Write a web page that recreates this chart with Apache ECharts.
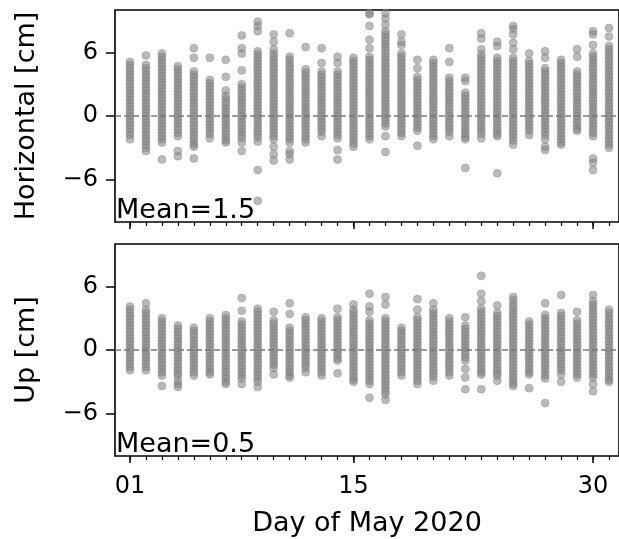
<!DOCTYPE html>
<html>
<head>
<meta charset="utf-8">
<script src="https://cdn.jsdelivr.net/npm/echarts@6/dist/echarts.min.js"></script>
<style>
  html, body { margin: 0; padding: 0; background: #ffffff; }
  #chart { width: 619px; height: 539px; }
</style>
</head>
<body>
<div id="chart"></div>
<script>
// Days of May 2020 with solutions
const days = [1, 2, 3, 4, 5, 6, 7, 8, 9, 10, 11, 12, 13, 14, 15, 16,
              17, 18, 19, 20, 21, 22, 23, 24, 25, 26, 27, 28, 29, 30, 31];
const majorDays = [1, 15, 30];
const yTicks = [-6, 0, 6];

// Horizontal offsets (cm), one list per day
const horizontal = [
  [5.1,4.8,4.5,4.2,3.9,3.6,3.3,3.0,2.7,2.4,2.1,1.8,1.5,1.2,0.9,0.6,0.3,0.0,-0.3,-0.6,-0.9,-1.2,-1.5,-1.8,-2.2],
  [5.7,4.8,4.5,4.2,3.9,3.6,3.3,3.0,2.7,2.4,2.1,1.8,1.5,1.2,0.9,0.6,0.3,0.0,-0.3,-0.6,-0.9,-1.2,-1.5,-1.8,-2.1,-2.4,-2.7,-3.0,-3.3],
  [5.9,5.6,5.3,5.0,4.7,4.4,4.1,3.8,3.5,3.2,2.9,2.6,2.3,2.0,1.7,1.4,1.1,0.8,0.5,0.2,-0.1,-0.4,-0.7,-1.0,-1.3,-1.6,-1.9,-2.2,-2.5,-4.1],
  [4.7,4.4,4.1,3.8,3.5,3.2,2.9,2.6,2.3,2.0,1.7,1.4,1.1,0.8,0.5,0.2,-0.1,-0.4,-0.7,-1.0,-1.3,-1.6,-1.9,-3.3,-3.8],
  [6.4,5.5,4.2,3.9,3.6,3.3,3.0,2.7,2.4,2.1,1.8,1.5,1.2,0.9,0.6,0.3,0.0,-0.3,-0.6,-0.9,-1.2,-1.5,-1.8,-2.1,-2.4,-2.7,-2.9,-4.0],
  [5.5,3.4,3.1,2.8,2.5,2.2,1.9,1.6,1.3,1.0,0.7,0.4,0.1,-0.2,-0.5,-0.8,-1.1,-1.4,-1.7,-2.1],
  [5.3,3.7,2.4,1.9,1.6,1.3,1.0,0.7,0.4,0.1,-0.2,-0.5,-0.8,-1.1,-1.4,-1.7,-2.0,-2.3,-2.5],
  [7.6,6.4,5.9,4.3,3.0,2.7,2.4,2.1,1.8,1.5,1.2,0.9,0.6,0.3,0.0,-0.3,-0.6,-0.9,-1.2,-1.5,-1.8,-2.1,-2.5,-3.3],
  [8.9,8.5,8.0,6.1,5.8,5.5,5.2,4.9,4.6,4.3,4.0,3.7,3.4,3.1,2.8,2.5,2.2,1.9,1.6,1.3,1.0,0.7,0.4,0.1,-0.2,-0.5,-0.8,-1.1,-1.4,-1.7,-2.0,-2.4,-5.1,-8.0],
  [7.7,7.0,6.3,5.9,5.6,5.3,5.0,4.7,4.4,4.1,3.8,3.5,3.2,2.9,2.6,2.3,2.0,1.7,1.4,1.1,0.8,0.5,0.2,-0.1,-0.4,-0.7,-1.0,-1.3,-1.6,-1.9,-2.2,-2.9,-3.6,-4.2],
  [7.8,5.6,5.3,5.0,4.7,4.4,4.1,3.8,3.5,3.2,2.9,2.6,2.3,2.0,1.7,1.4,1.1,0.8,0.5,0.2,-0.1,-0.4,-0.7,-1.0,-1.3,-1.6,-1.9,-2.2,-2.5,-3.3,-3.6,-4.1],
  [6.5,4.4,4.1,3.8,3.5,3.2,2.9,2.6,2.3,2.0,1.7,1.4,1.1,0.8,0.5,0.2,-0.1,-0.4,-0.7,-1.0,-1.3,-1.6,-1.9,-2.2,-2.5],
  [6.4,5.0,4.2,3.9,3.6,3.3,3.0,2.7,2.4,2.1,1.8,1.5,1.2,0.9,0.6,0.3,0.0,-0.3,-0.6,-0.9,-1.2,-1.5,-1.9],
  [5.6,5.0,4.2,3.9,3.6,3.3,3.0,2.7,2.4,2.1,1.8,1.5,1.2,0.9,0.6,0.3,0.0,-0.3,-0.6,-0.9,-1.2,-1.5,-1.8,-2.1,-3.2,-4.1],
  [5.5,5.2,4.9,4.6,4.3,4.0,3.7,3.4,3.1,2.8,2.5,2.2,1.9,1.6,1.3,1.0,0.7,0.4,0.1,-0.2,-0.5,-0.8,-1.1,-1.4,-1.7,-2.0,-2.3,-2.6,-2.9],
  [9.7,9.6,8.5,7.2,6.4,5.6,5.3,5.0,4.7,4.4,4.1,3.8,3.5,3.2,2.9,2.6,2.3,2.0,1.7,1.4,1.1,0.8,0.5,0.2,-0.1,-0.4,-0.7,-1.0,-1.3,-1.6,-1.9,-2.2],
  [9.7,9.2,8.6,8.0,7.7,7.4,7.1,6.8,6.5,6.2,5.9,5.6,5.3,5.0,4.7,4.4,4.1,3.8,3.5,3.2,2.9,2.6,2.3,2.0,1.7,1.4,1.1,0.8,0.5,0.2,-0.1,-0.4,-0.7,-1.0,-1.9,-3.4],
  [7.7,7.0,6.7,5.9,5.6,5.3,5.0,4.7,4.4,4.1,3.8,3.5,3.2,2.9,2.6,2.3,2.0,1.7,1.4,1.1,0.8,0.5,0.2,-0.1,-0.4,-0.7,-1.0,-1.3,-1.6,-1.9],
  [5.3,4.5,3.7,3.4,3.1,2.8,2.5,2.2,1.9,1.6,1.3,1.0,0.7,0.4,0.1,-0.2,-0.5,-0.8,-1.1,-1.4,-2.8],
  [5.3,5.0,4.7,4.4,4.1,3.8,3.5,3.2,2.9,2.6,2.3,2.0,1.7,1.4,1.1,0.8,0.5,0.2,-0.1,-0.4,-0.7,-1.0,-1.3,-1.6,-1.9,-2.2],
  [6.4,5.1,3.6,3.3,3.0,2.7,2.4,2.1,1.8,1.5,1.2,0.9,0.6,0.3,0.0,-0.3,-0.6,-0.9,-1.2,-1.5,-1.9],
  [3.6,3.3,2.2,1.9,1.6,1.3,1.0,0.7,0.4,0.1,-0.2,-0.5,-0.8,-1.1,-1.4,-1.7,-2.0,-2.2,-4.9],
  [7.8,7.3,6.3,5.8,5.5,5.2,4.9,4.6,4.3,4.0,3.7,3.4,3.1,2.8,2.5,2.2,1.9,1.6,1.3,1.0,0.7,0.4,0.1,-0.2,-0.5,-0.8,-1.1,-1.4,-1.7,-2.1],
  [7.0,6.6,5.5,5.2,4.9,4.6,4.3,4.0,3.7,3.4,3.1,2.8,2.5,2.2,1.9,1.6,1.3,1.0,0.7,0.4,0.1,-0.2,-0.5,-0.8,-1.1,-1.4,-1.7,-1.9,-5.4],
  [8.5,8.2,7.7,6.9,6.3,5.5,5.2,4.9,4.6,4.3,4.0,3.7,3.4,3.1,2.8,2.5,2.2,1.9,1.6,1.3,1.0,0.7,0.4,0.1,-0.2,-0.5,-0.8,-1.1,-1.4,-1.7,-2.0,-2.3,-2.7],
  [5.9,5.2,4.9,4.6,4.3,4.0,3.7,3.4,3.1,2.8,2.5,2.2,1.9,1.6,1.3,1.0,0.7,0.4,0.1,-0.2,-0.5,-0.8,-1.1,-1.4,-1.8],
  [6.1,5.5,4.5,4.2,3.9,3.6,3.3,3.0,2.7,2.4,2.1,1.8,1.5,1.2,0.9,0.6,0.3,0.0,-0.3,-0.6,-0.9,-1.2,-1.5,-1.8,-2.2,-2.9,-3.2],
  [5.3,5.0,4.7,4.4,4.1,3.8,3.5,3.2,2.9,2.6,2.3,2.0,1.7,1.4,1.1,0.8,0.5,0.2,-0.1,-0.4,-0.7,-1.0,-1.3,-1.6,-1.9,-2.2,-2.5,-2.7],
  [6.3,5.6,4.2,3.9,3.6,3.3,3.0,2.7,2.4,2.1,1.8,1.5,1.2,0.9,0.6,0.3,0.0,-0.3,-0.6,-0.9,-1.2,-1.4],
  [8.0,7.7,6.7,5.9,5.6,5.3,5.0,4.7,4.4,4.1,3.8,3.5,3.2,2.9,2.6,2.3,2.0,1.7,1.4,1.1,0.8,0.5,0.2,-0.1,-0.4,-0.7,-1.0,-1.3,-1.6,-1.9,-4.0,-4.4,-5.1],
  [8.3,7.5,6.6,6.3,6.0,5.7,5.4,5.1,4.8,4.5,4.2,3.9,3.6,3.3,3.0,2.7,2.4,2.1,1.8,1.5,1.2,0.9,0.6,0.3,0.0,-0.3,-0.6,-0.9,-1.2,-1.5,-1.8,-2.1,-2.4,-2.7,-3.0]
];

// Vertical (up) offsets (cm), one list per day
const up = [
  [4.1,3.8,3.5,3.2,2.9,2.6,2.3,2.0,1.7,1.4,1.1,0.8,0.5,0.2,-0.1,-0.4,-0.7,-1.0,-1.3,-1.6,-1.9],
  [4.4,3.8,3.5,3.2,2.9,2.6,2.3,2.0,1.7,1.4,1.1,0.8,0.5,0.2,-0.1,-0.4,-0.7,-1.0,-1.3,-1.6,-1.9],
  [3.0,2.7,2.4,2.1,1.8,1.5,1.2,0.9,0.6,0.3,0.0,-0.3,-0.6,-0.9,-1.2,-1.5,-1.8,-2.1,-2.4,-3.4],
  [2.3,2.0,1.7,1.4,1.1,0.8,0.5,0.2,-0.1,-0.4,-0.7,-1.0,-1.3,-1.6,-1.9,-2.2,-2.4,-2.9,-3.2,-3.5],
  [2.1,1.8,1.5,1.2,0.9,0.6,0.3,0.0,-0.3,-0.6,-0.9,-1.2,-1.5,-1.8,-2.1,-2.4],
  [3.0,2.7,2.4,2.1,1.8,1.5,1.2,0.9,0.6,0.3,0.0,-0.3,-0.6,-0.9,-1.2,-1.5,-1.8,-2.1,-2.3],
  [3.3,3.0,2.7,2.4,2.1,1.8,1.5,1.2,0.9,0.6,0.3,0.0,-0.3,-0.6,-0.9,-1.2,-1.5,-1.8,-2.1,-2.4,-2.7,-3.0,-3.2],
  [4.9,3.7,2.7,2.4,2.1,1.8,1.5,1.2,0.9,0.6,0.3,0.0,-0.3,-0.6,-0.9,-1.2,-1.5,-1.8,-2.1,-2.4,-2.7,-3.2],
  [3.9,3.6,3.3,3.0,2.7,2.4,2.1,1.8,1.5,1.2,0.9,0.6,0.3,0.0,-0.3,-0.6,-0.9,-1.2,-1.5,-1.8,-2.1,-2.4,-2.7,-3.0,-3.5],
  [3.6,2.8,2.5,2.2,1.9,1.6,1.3,1.0,0.7,0.4,0.1,-0.2,-0.5,-0.8,-1.1,-1.4,-1.7,-2.3],
  [4.4,3.4,2.1,1.8,1.5,1.2,0.9,0.6,0.3,0.0,-0.3,-0.6,-0.9,-1.2,-1.5,-1.8,-2.1,-2.4,-2.6],
  [3.1,2.8,2.5,2.2,1.9,1.6,1.3,1.0,0.7,0.4,0.1,-0.2,-0.5,-0.8,-1.1,-1.4,-1.7,-2.1],
  [3.0,2.7,2.4,2.1,1.8,1.5,1.2,0.9,0.6,0.3,0.0,-0.3,-0.6,-0.9,-1.2,-1.5,-1.8,-2.1,-2.4],
  [3.9,3.1,2.8,2.5,2.2,1.9,1.6,1.3,1.0,0.7,0.4,0.1,-0.2,-0.5,-0.8,-1.0,-2.2],
  [4.3,3.8,3.5,3.2,2.9,2.6,2.3,2.0,1.7,1.4,1.1,0.8,0.5,0.2,-0.1,-0.4,-0.7,-1.0,-1.3,-1.6,-1.9,-2.2,-2.5,-2.8,-3.0],
  [5.3,4.1,3.6,2.8,2.5,2.2,1.9,1.6,1.3,1.0,0.7,0.4,0.1,-0.2,-0.5,-0.8,-1.1,-1.4,-1.7,-2.0,-2.3,-2.6,-2.9,-3.2,-4.5],
  [5.0,4.3,3.0,2.7,2.4,2.1,1.8,1.5,1.2,0.9,0.6,0.3,0.0,-0.3,-0.6,-0.9,-1.2,-1.5,-1.8,-2.1,-2.4,-2.7,-3.0,-3.3,-3.6,-3.9,-4.2,-4.7],
  [2.1,1.8,1.5,1.2,0.9,0.6,0.3,0.0,-0.3,-0.6,-0.9,-1.2,-1.5,-1.8,-2.1,-2.4],
  [4.8,3.8,3.1,2.8,2.5,2.2,1.9,1.6,1.3,1.0,0.7,0.4,0.1,-0.2,-0.5,-0.8,-1.1,-1.4,-1.7,-2.0,-2.3,-2.6,-2.9,-3.2],
  [4.4,3.8,3.5,3.2,2.9,2.6,2.3,2.0,1.7,1.4,1.1,0.8,0.5,0.2,-0.1,-0.4,-0.7,-1.0,-1.3,-1.6,-1.9,-2.2,-2.5,-2.9],
  [3.0,2.7,2.4,2.1,1.8,1.5,1.2,0.9,0.6,0.3,0.0,-0.3,-0.6,-0.9,-1.2,-1.5,-1.8,-2.1,-2.4],
  [3.1,2.3,2.0,1.7,1.4,1.1,0.8,0.5,0.2,-0.1,-0.4,-0.7,-1.0,-1.8,-2.6,-3.7],
  [7.0,5.3,4.6,3.9,3.6,3.3,3.0,2.7,2.4,2.1,1.8,1.5,1.2,0.9,0.6,0.3,0.0,-0.3,-0.6,-0.9,-1.2,-1.5,-1.8,-2.1,-2.3,-3.7],
  [4.2,3.5,3.2,2.9,2.6,2.3,2.0,1.7,1.4,1.1,0.8,0.5,0.2,-0.1,-0.4,-0.7,-1.0,-1.3,-1.6,-1.9,-2.2,-2.4,-2.9],
  [5.0,4.7,4.3,4.0,3.7,3.4,3.1,2.8,2.5,2.2,1.9,1.6,1.3,1.0,0.7,0.4,0.1,-0.2,-0.5,-0.8,-1.1,-1.4,-1.7,-2.0,-2.3,-2.6,-2.9,-3.2,-3.4],
  [2.7,2.4,2.1,1.8,1.5,1.2,0.9,0.6,0.3,0.0,-0.3,-0.6,-0.9,-1.2,-1.5,-1.8,-2.1,-2.3,-3.6],
  [4.4,3.3,3.0,2.7,2.4,2.1,1.8,1.5,1.2,0.9,0.6,0.3,0.0,-0.3,-0.6,-0.9,-1.2,-1.5,-1.8,-2.1,-2.4,-2.7,-5.0],
  [5.2,3.5,3.2,2.9,2.6,2.3,2.0,1.7,1.4,1.1,0.8,0.5,0.2,-0.1,-0.4,-0.7,-1.0,-1.3,-1.6,-1.9,-2.3,-3.0],
  [3.6,2.8,2.5,2.2,1.9,1.6,1.3,1.0,0.7,0.4,0.1,-0.2,-0.5,-0.8,-1.1,-1.4,-1.7,-2.0,-2.3,-2.6],
  [5.2,4.6,4.3,4.0,3.7,3.4,3.1,2.8,2.5,2.2,1.9,1.6,1.3,1.0,0.7,0.4,0.1,-0.2,-0.5,-0.8,-1.1,-1.4,-1.7,-2.0,-2.3,-2.6,-3.2,-3.9],
  [3.8,3.5,3.2,2.9,2.6,2.3,2.0,1.7,1.4,1.1,0.8,0.5,0.2,-0.1,-0.4,-0.7,-1.0,-1.3,-1.6,-1.9,-2.2,-2.5,-2.8,-3.0]
];

const meanHorizontal = 1.5;
const meanUp = 0.5;

const FONT = '"DejaVu Sans", "Liberation Sans", sans-serif';
const X_MIN = 1 - 15 / 16;      // a little before 1 May
const X_MAX = X_MIN + 505 / 16; // past 31 May, right edge off canvas

function toPoints(values) {
  const pts = [];
  days.forEach((d, i) => values[i].forEach(v => pts.push([d, v])));
  return pts;
}

const fmtY = v => (v < 0 ? '\u2212' + Math.abs(v) : String(v));
const fmtDay = v => String(v).padStart(2, '0');

function majorX(gridIndex, withLabels) {
  return {
    type: 'value', gridIndex, min: X_MIN, max: X_MAX, position: 'bottom',
    axisLine: { show: false, onZero: false },
    splitLine: { show: false },
    axisTick: { show: true, customValues: majorDays, length: 7, lineStyle: { color: '#000', width: 1.5 } },
    axisLabel: withLabels
      ? { show: true, customValues: majorDays, formatter: fmtDay, fontSize: 24, color: '#000', fontFamily: FONT, margin: 19 }
      : { show: false },
    name: withLabels ? 'Day of May 2020' : '',
    nameLocation: 'middle', nameGap: 54,
    nameTextStyle: { fontSize: 27, color: '#000', fontFamily: FONT }
  };
}
function minorX(gridIndex) {
  return {
    type: 'value', gridIndex, min: X_MIN, max: X_MAX, position: 'bottom',
    axisLine: { show: false, onZero: false }, splitLine: { show: false },
    axisTick: { show: true, customValues: days, length: 4, lineStyle: { color: '#000', width: 1.2 } },
    axisLabel: { show: false }
  };
}
function yAx(gridIndex, name) {
  return {
    type: 'value', gridIndex, min: -10, max: 10, position: 'left',
    axisLine: { show: false, onZero: false }, splitLine: { show: false },
    axisTick: { show: true, customValues: yTicks, length: 9, lineStyle: { color: '#000', width: 1.5 } },
    axisLabel: { show: true, customValues: yTicks, formatter: fmtY, fontSize: 24, color: '#000', fontFamily: FONT, margin: 17 },
    name, nameLocation: 'middle', nameGap: 75, nameRotate: 90,
    nameTextStyle: { fontSize: 27, color: '#000', fontFamily: FONT }
  };
}

const pointStyle = { color: 'rgba(128,128,128,0.68)', borderColor: 'rgba(128,128,128,0.6)', borderWidth: 0.8 };
const zeroLine = {
  silent: true, symbol: 'none', animation: false,
  label: { show: false },
  lineStyle: { type: [6, 3], color: '#7a7a7a', width: 1.5 },
  data: [{ yAxis: 0 }]
};

const chart = echarts.init(document.getElementById('chart'), null, { renderer: 'canvas' });
chart.setOption({
  animation: false,
  backgroundColor: '#ffffff',
  textStyle: { fontFamily: FONT },
  grid: [
    { left: 115, top: 10, width: 505, height: 212, show: true, borderColor: '#000', borderWidth: 1.6, backgroundColor: 'transparent' },
    { left: 115, top: 244, width: 505, height: 212, show: true, borderColor: '#000', borderWidth: 1.6, backgroundColor: 'transparent' }
  ],
  xAxis: [majorX(0, false), minorX(0), majorX(1, true), minorX(1)],
  yAxis: [yAx(0, 'Horizontal [cm]'), yAx(1, 'Up [cm]')],
  series: [
    { type: 'scatter', xAxisIndex: 0, yAxisIndex: 0, data: [], z: 1, markLine: zeroLine },
    { type: 'scatter', xAxisIndex: 2, yAxisIndex: 1, data: [], z: 1, markLine: zeroLine },
    { type: 'scatter', xAxisIndex: 0, yAxisIndex: 0, z: 3, symbolSize: 8, itemStyle: pointStyle, data: toPoints(horizontal) },
    { type: 'scatter', xAxisIndex: 2, yAxisIndex: 1, z: 3, symbolSize: 8, itemStyle: pointStyle, data: toPoints(up) }
  ],
  graphic: [
    { type: 'text', left: 116, top: 197, z: 10, style: { text: 'Mean=' + meanHorizontal.toFixed(1), font: '27px ' + FONT, fill: '#000' } },
    { type: 'text', left: 116, top: 431, z: 10, style: { text: 'Mean=' + meanUp.toFixed(1), font: '27px ' + FONT, fill: '#000' } }
  ]
});
</script>
</body>
</html>
